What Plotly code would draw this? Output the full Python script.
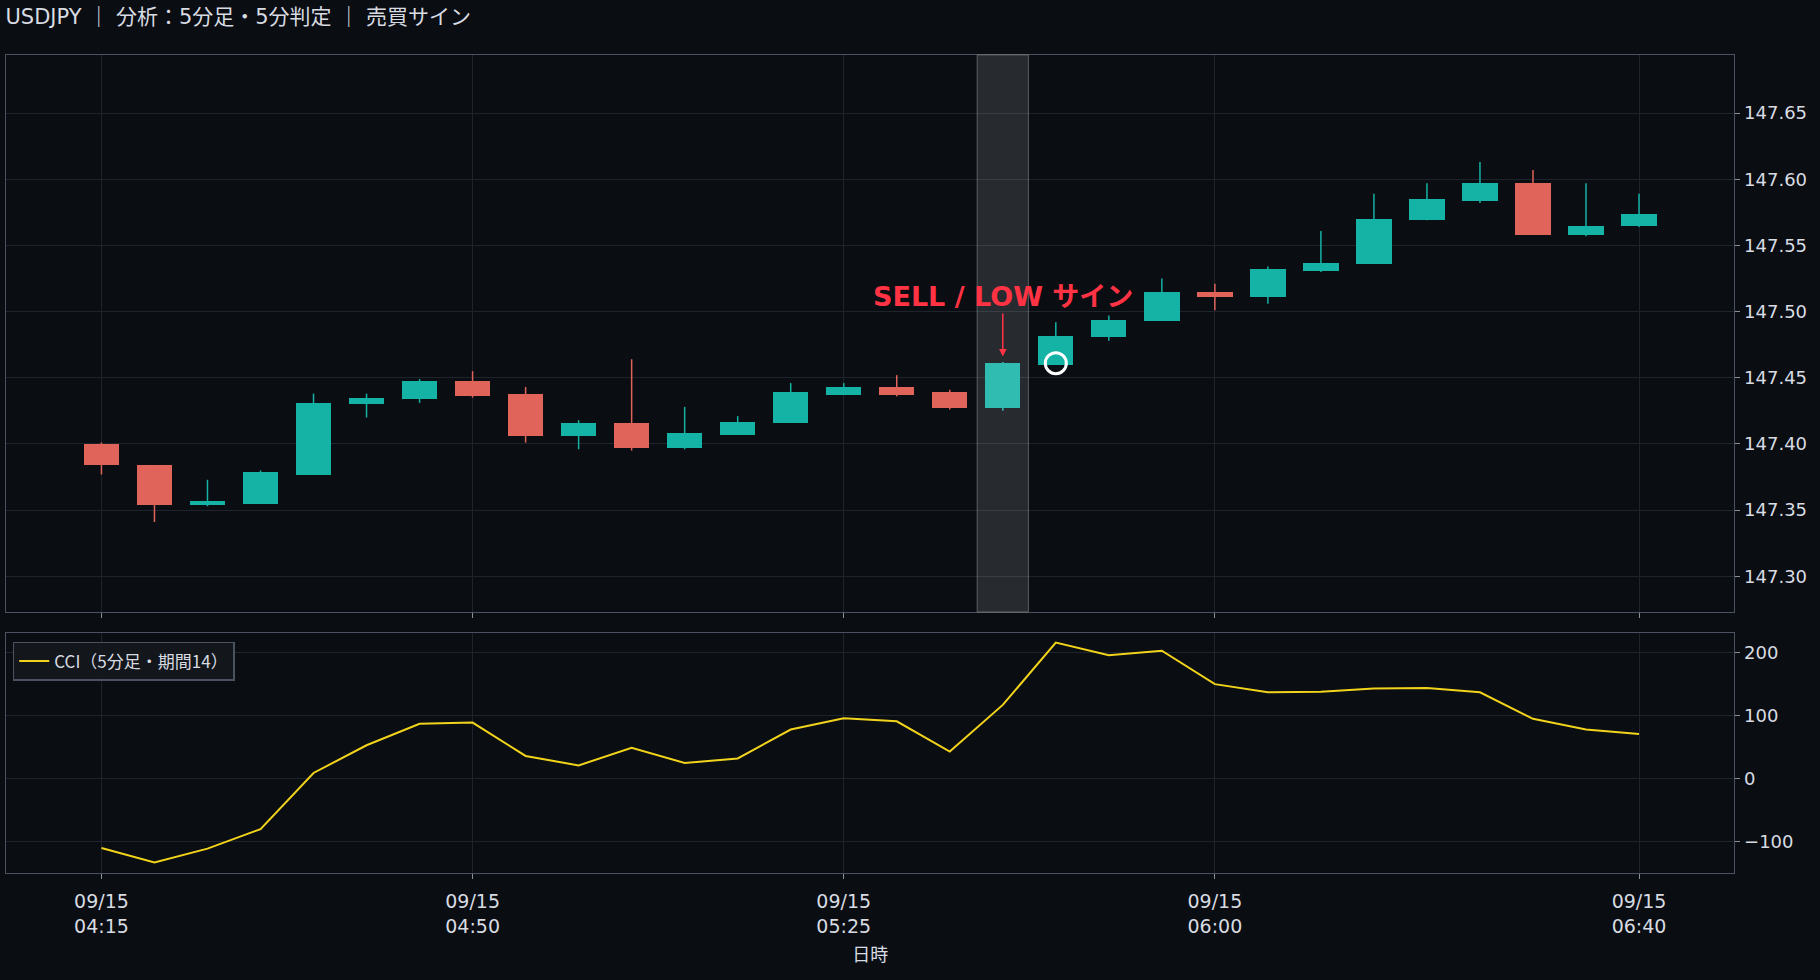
import plotly.graph_objects as go
import pandas as pd

times = pd.date_range("2025-09-15 04:15", "2025-09-15 06:40", freq="5min")
opens  = [147.400,147.384,147.354,147.355,147.377,147.430,147.434,147.448,147.438,147.406,147.416,147.397,147.407,147.416,147.437,147.443,147.439,147.427,147.460,147.481,147.493,147.515,147.511,147.531,147.536,147.569,147.584,147.597,147.558,147.565]
closes = [147.384,147.354,147.357,147.379,147.431,147.435,147.448,147.436,147.406,147.416,147.397,147.408,147.417,147.439,147.443,147.437,147.427,147.461,147.482,147.494,147.515,147.511,147.532,147.537,147.570,147.585,147.597,147.558,147.565,147.574]
highs  = [147.401,147.384,147.373,147.380,147.438,147.438,147.449,147.455,147.443,147.418,147.464,147.428,147.421,147.446,147.446,147.452,147.441,147.462,147.492,147.497,147.525,147.521,147.534,147.561,147.589,147.597,147.613,147.607,147.597,147.589]
lows   = [147.377,147.341,147.353,147.355,147.377,147.420,147.431,147.435,147.401,147.396,147.395,147.396,147.407,147.416,147.437,147.436,147.426,147.425,147.460,147.478,147.493,147.501,147.506,147.530,147.536,147.569,147.582,147.558,147.557,147.564]
cci = [-110,-133,-111,-80,9,53,87,89,36,21,49,25,32,78,96,91,43,117,216,196,203,150,137,138,143,144,137,95,78,71]

tick_vals = ["2025-09-15 04:15","2025-09-15 04:50","2025-09-15 05:25","2025-09-15 06:00","2025-09-15 06:40"]
tick_text = ["09/15<br>04:15","09/15<br>04:50","09/15<br>05:25","09/15<br>06:00","09/15<br>06:40"]
price_ticks = [147.30,147.35,147.40,147.45,147.50,147.55,147.60,147.65]
signal_idx = 17

BG = "#0a0d12"; GRID = "#1f242c"; BORDER = "#4a5260"; TXT = "#d8dce2"
UP = "#14b3a5"; DN = "#e0645a"; SIG = "#ff3344"
FONT = "DejaVu Sans, Noto Sans CJK JP"

fig = go.Figure()
cols = [UP if c >= o else DN for o, c in zip(opens, closes)]
for color in (UP, DN):
    wx, wy = [], []
    for t, o, c, h, l, col in zip(times, opens, closes, highs, lows, cols):
        if col == color:
            wx += [t, t, None]; wy += [l, h, None]
    fig.add_trace(go.Scatter(x=wx, y=wy, mode="lines", line=dict(color=color, width=1.5),
                             showlegend=False, hoverinfo="skip", xaxis="x", yaxis="y"))
fig.add_trace(go.Bar(x=times, y=[max(abs(c - o), 0.0008) for o, c in zip(opens, closes)],
    base=[min(o, c) for o, c in zip(opens, closes)], width=200000, marker=dict(color=cols, line=dict(width=0)),
    showlegend=False, xaxis="x", yaxis="y"))
fig.add_trace(go.Scatter(x=[times[signal_idx+1]], y=[closes[signal_idx]], mode="markers",
    marker=dict(symbol="circle-open", size=21, color="white", line=dict(width=3, color="white")),
    showlegend=False, xaxis="x", yaxis="y"))
fig.add_trace(go.Scatter(x=times, y=cci, mode="lines", line=dict(color="#f2d31b", width=2),
    name="CCI（5分足・期間14）", xaxis="x2", yaxis="y2"))

half = pd.Timedelta(seconds=145)
fig.add_shape(type="rect", xref="x", yref="y domain", x0=times[signal_idx]-half, x1=times[signal_idx]+half,
    y0=0, y1=1, fillcolor="rgba(255,255,255,0.12)", line=dict(color="rgba(160,160,160,0.5)", width=1), layer="above")
fig.add_annotation(x=times[signal_idx], y=highs[signal_idx]+0.004, xref="x", yref="y",
    text="<b>SELL / LOW サイン</b>", showarrow=True, arrowhead=2, arrowsize=1, arrowwidth=1.5,
    arrowcolor=SIG, ax=0, ay=-60, font=dict(color=SIG, size=27, family=FONT))

xr = [pd.Timestamp("2025-09-15 04:06"), pd.Timestamp("2025-09-15 06:49")]
common_x = dict(type="date", range=xr, tickvals=tick_vals, showgrid=True, gridcolor=GRID, zeroline=False,
    showline=True, linecolor=BORDER, mirror=True, ticks="outside", tickcolor="#8a9099", ticklen=5,
    domain=[0.0033, 0.953])
fig.update_layout(
    width=1820, height=980, paper_bgcolor=BG, plot_bgcolor=BG, bargap=0,
    margin=dict(l=0, r=0, t=0, b=0),
    font=dict(family=FONT, color=TXT, size=18),
    title=dict(text="USDJPY ｜ 分析：5分足・5分判定 ｜ 売買サイン", x=0.003, xanchor="left", y=0.983, yanchor="middle",
               font=dict(size=21, color=TXT)),
    xaxis=dict(**common_x, anchor="y", showticklabels=False),
    xaxis2=dict(**common_x, anchor="y2", matches="x", ticktext=tick_text, showticklabels=True,
                ticklabelstandoff=6, tickfont=dict(size=19),
                title=dict(text="日時", font=dict(size=18), standoff=12)),
    yaxis=dict(domain=[0.3755, 0.944], range=[147.273, 147.694], side="right", tickvals=price_ticks,
               tickformat=".2f", gridcolor=GRID, showline=True, linecolor=BORDER, mirror=True, zeroline=False,
               ticks="outside", tickcolor="#8a9099", ticklen=5),
    yaxis2=dict(domain=[0.109, 0.354], range=[-150, 231], side="right", tickvals=[-100, 0, 100, 200],
                gridcolor=GRID, showline=True, linecolor=BORDER, mirror=True, zeroline=False,
                ticks="outside", tickcolor="#8a9099", ticklen=5),
    legend=dict(x=0.007, y=0.345, xanchor="left", yanchor="top", bgcolor="rgba(20,24,30,0.9)",
                bordercolor=BORDER, borderwidth=1.5, font=dict(size=17, color=TXT, family="Noto Sans CJK JP")),
)
fig.write_html("out.html", config={"displayModeBar": False},
               post_script="document.body.style.margin='0';document.body.style.background='#0a0d12';")
